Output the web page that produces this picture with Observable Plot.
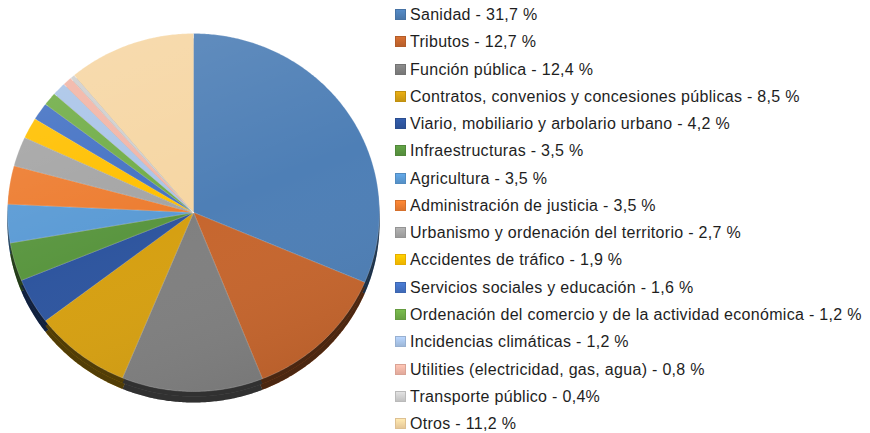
<!DOCTYPE html>
<html>
<head>
<meta charset="utf-8">
<script src="https://cdn.jsdelivr.net/npm/d3@7"></script>
<script src="https://cdn.jsdelivr.net/npm/@observablehq/plot@0.6"></script>
<style>
  html, body { margin: 0; padding: 0; background: #fff; }
  #wrap { position: relative; width: 870px; height: 433px; overflow: hidden; }
  #chart { position: absolute; left: 0; top: 0; }
  #legend { position: absolute; left: 395px; top: 0; font-family: "Liberation Sans", Arial, sans-serif; font-size: 16px; color: #1e1e1e; letter-spacing: 0.3px; }
  .item { position: absolute; left: 0; white-space: nowrap; height: 20px; line-height: 20px; }
  .sw { position: absolute; left: 0; top: 4px; width: 11px; height: 11px; box-sizing: border-box; }
  .lab { position: absolute; left: 15px; top: 0; }
</style>
</head>
<body>
<div id="wrap"><div id="chart"></div><div id="legend"></div></div>
<script>
const categories = [
  "Sanidad",
  "Tributos",
  "Función pública",
  "Contratos, convenios y concesiones públicas",
  "Viario, mobiliario y arbolario urbano",
  "Infraestructuras",
  "Agricultura",
  "Administración de justicia",
  "Urbanismo y ordenación del territorio",
  "Accidentes de tráfico",
  "Servicios sociales y educación",
  "Ordenación del comercio y de la actividad económica",
  "Incidencias climáticas",
  "Utilities (electricidad, gas, agua)",
  "Transporte público",
  "Otros"
];
const shares = [31.7, 12.7, 12.4, 8.5, 4.2, 3.5, 3.5, 3.5, 2.7, 1.9, 1.6, 1.2, 1.2, 0.8, 0.4, 11.2];
const legendLabels = [
  "Sanidad - 31,7 %",
  "Tributos - 12,7 %",
  "Función pública  - 12,4 %",
  "Contratos, convenios y concesiones públicas - 8,5 %",
  "Viario, mobiliario y arbolario urbano - 4,2 %",
  "Infraestructuras - 3,5 %",
  "Agricultura - 3,5 %",
  "Administración de justicia - 3,5 %",
  "Urbanismo y ordenación del territorio - 2,7 %",
  "Accidentes de tráfico - 1,9 %",
  "Servicios sociales y educación - 1,6 %",
  "Ordenación del comercio y de la actividad económica - 1,2 %",
  "Incidencias climáticas - 1,2 %",
  "Utilities (electricidad, gas, agua) - 0,8 %",
  "Transporte público - 0,4%",
  "Otros - 11,2 %"
];
const colors = [
  "#4e7fb6", "#c6662e", "#808080", "#d6a012", "#2f569f", "#5a9640",
  "#5b9bd5", "#ed7d31", "#a5a5a5", "#ffc000", "#4472c4", "#70ad47",
  "#a9c4e8", "#f2b5a6", "#cfcfcf", "#f6d6a3"
];

// Build slice outlines (angles from d3.pie, starting at 12 o'clock, clockwise)
const arcs = d3.pie().sort(null).value(d => d.v)(categories.map((c, i) => ({c, v: shares[i]})));
const pts = [];
arcs.forEach(a => {
  const c = a.data.c;
  pts.push({c, x: 0, y: 0});
  const n = Math.max(2, Math.ceil((a.endAngle - a.startAngle) / 0.01));
  for (let k = 0; k <= n; k++) {
    const t = a.startAngle + (a.endAngle - a.startAngle) * k / n;
    pts.push({c, x: Math.sin(t), y: -Math.cos(t)});
  }
  pts.push({c, x: 0, y: 0});
});

const plot = Plot.plot({
  width: 390,
  height: 433,
  margin: 0,
  x: {domain: [-1, 1], range: [7, 379], axis: null},
  y: {domain: [-1, 1], range: [33, 391], axis: null},
  color: {domain: categories, range: colors},
  marks: [
    // 3D side (shadow) layer
    Plot.line(pts, {x: "x", y: "y", z: "c", fill: "c", stroke: "none", dy: 11, curve: "linear"}),
    Plot.line(pts, {x: "x", y: "y", z: "c", fill: "#000", fillOpacity: 0.62, stroke: "none", dy: 11, curve: "linear"}),
    Plot.line(pts, {x: "x", y: "y", z: "c", fill: "c", stroke: "none", dy: 5, curve: "linear"}),
    Plot.line(pts, {x: "x", y: "y", z: "c", fill: "#000", fillOpacity: 0.62, stroke: "none", dy: 5, curve: "linear"}),
    // top surface
    Plot.line(pts, {x: "x", y: "y", z: "c", fill: "c", stroke: "#ffffff", strokeOpacity: 0.35, strokeWidth: 0.6, curve: "linear"}),
    // lighting overlay
    Plot.line(pts, {x: "x", y: "y", z: "c", fill: "url(#light)", stroke: "none", curve: "linear"})
  ]
});

// lighting gradient definition
const svg = d3.select(plot);
const defs = svg.insert("defs", ":first-child");
const g = defs.append("linearGradient").attr("id", "light")
  .attr("gradientUnits", "userSpaceOnUse")
  .attr("x1", 120).attr("y1", 33).attr("x2", 260).attr("y2", 391);
g.append("stop").attr("offset", "0%").attr("stop-color", "#fff").attr("stop-opacity", 0.12);
g.append("stop").attr("offset", "50%").attr("stop-color", "#fff").attr("stop-opacity", 0.0);
g.append("stop").attr("offset", "100%").attr("stop-color", "#000").attr("stop-opacity", 0.07);

document.getElementById("chart").appendChild(plot);

// Legend (uses the same color scale)
const scale = plot.scale("color");
const legend = d3.select("#legend");
legendLabels.forEach((lab, i) => {
  const item = legend.append("div").attr("class", "item").style("top", (5 + i * 27.27) + "px");
  const col = scale.apply(categories[i]);
  item.append("div").attr("class", "sw")
    .style("background", `linear-gradient(180deg, ${d3.color(col).brighter(0.25)}, ${d3.color(col).darker(0.2)})`)
    .style("border", "1px solid " + d3.color(col).darker(0.3));
  item.append("div").attr("class", "lab").text(lab);
});
</script>
</body>
</html>
